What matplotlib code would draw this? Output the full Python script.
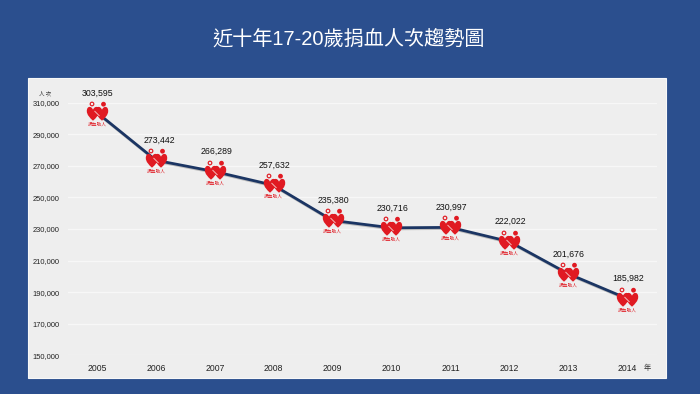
import numpy as np
import matplotlib
matplotlib.use("Agg")
import matplotlib.pyplot as plt
import matplotlib.patheffects as pe
from matplotlib.patches import Rectangle
from matplotlib.path import Path

years = ['2005', '2006', '2007', '2008', '2009', '2010', '2011', '2012', '2013', '2014']
donors = [303595, 273442, 266289, 257632, 235380, 230716, 230997, 222022, 201676, 185982]
yticks = [150000, 170000, 190000, 210000, 230000, 250000, 270000, 290000, 310000]

BG = '#2b4f8e'
PANEL = '#eeeeee'
NAVY = '#1b3563'
RED = '#e01a22'
W, H = 700, 394
FONT = ['Liberation Sans', 'Noto Sans CJK TC']


def circle(cx, cy, r, ccw=True):
    c = Path.unit_circle()
    v = c.vertices * r + [cx, cy]
    if not ccw:
        return Path(v[::-1], c.codes)
    return Path(v, c.codes)


def heart(cx, cy, s):
    # one heart, in pixels, y up
    v = np.array([[0, -7.2], [-3, -4.5], [-6.2, -1.5], [-6.2, 2.5],
                  [-6.2, 7.5], [-1.8, 8], [0, 3.8],
                  [1.8, 8], [6.2, 7.5], [6.2, 2.5],
                  [6.2, -1.5], [3, -4.5], [0, -7.2], [0, -7.2]]) * s + [cx, cy]
    codes = [Path.MOVETO] + [Path.CURVE4] * 12 + [Path.CLOSEPOLY]
    return Path(v, codes)


# logo centred on the data point, drawn as one marker
logo = Path.make_compound_path(
    heart(-4.5, 0, 1.0),
    heart(4.5, 0, 1.0),
    circle(-5.5, 9.5, 2.4),
    circle(-5.5, 9.5, 1.2, ccw=False),
    circle(6, 9.3, 2.4),
)
logo_r = np.abs(logo.vertices).max()
# small light slit where the two hearts cross
slit = Path([[-logo_r, logo_r], [-3, 2.5], [2, -2.5], [logo_r, -logo_r]],
            [Path.MOVETO, Path.MOVETO, Path.LINETO, Path.MOVETO])

fig = plt.figure(figsize=(W / 100, H / 100), dpi=100, facecolor=BG)

# panel
fig.patches.append(Rectangle((28 / W, 1 - 378 / H), 638 / W, 300 / H, transform=fig.transFigure,
                             facecolor=PANEL, edgecolor='#f8f8f8', linewidth=0.8, zorder=-1))

x0, x1 = 67.6, 656.5
y150, y310 = 355.4, 102.5
ax = fig.add_axes([x0 / W, 1 - y150 / H, (x1 - x0) / W, (y150 - y310) / H])
ax.patch.set_alpha(0)
ax.set_xlim(-0.5, 9.5)
ax.set_ylim(150000, 310000)
for s in ax.spines.values():
    s.set_visible(False)
ax.set_yticks(yticks, [f'{v:,}' for v in yticks], family=FONT, fontsize=5.4, color='#222222')
ax.set_xticks(range(len(years)), years, family=FONT, fontsize=6.2, color='#222222')
ax.tick_params(length=0)
ax.tick_params(axis='y', pad=6)
ax.tick_params(axis='x', pad=6.5)
ax.grid(axis='y', color='#f7f7f7', linewidth=1)
ax.set_axisbelow(True)

xs = np.arange(len(years))
ax.plot(xs, donors, color=NAVY, linewidth=2.0, solid_capstyle='round', zorder=3, clip_on=False,
        path_effects=[pe.SimpleLineShadow(offset=(0.5, -0.8), shadow_color='#888888', alpha=0.5), pe.Normal()])
ax.plot(xs, donors, linestyle='none', marker=logo, markersize=2 * logo_r * 0.72,
        markerfacecolor=RED, markeredgewidth=0, zorder=4, clip_on=False)
ax.plot(xs, donors, linestyle='none', marker=slit, markersize=2 * logo_r * 0.72, markerfacecolor='none',
        markeredgecolor='#f3b8b8', markeredgewidth=0.7, zorder=4.5, clip_on=False)

label_dx = [0.5, 3, 2, 1, 0.5, 1, 1, 1, 0.5, 1]
for x, v, dx in zip(xs, donors, label_dx):
    ax.annotate(f'{v:,}', (x, v), xytext=(dx * 0.72, 19.8 * 0.72), textcoords='offset points',
                ha='center', va='center', family=FONT, fontsize=6.3, color='#111111', zorder=5)
    ax.annotate('捐血助人', (x, v), xytext=(0, -11.2 * 0.72), textcoords='offset points',
                ha='center', va='center', family='Noto Sans CJK TC', fontsize=3.4, color=RED, zorder=5)

fig.text(348.5 / W, 1 - 38.5 / H, '近十年17-20歲捐血人次趨勢圖', color='white', family=FONT, fontsize=14.5,
         ha='center', va='center')
fig.text(45 / W, 1 - 94 / H, '人 次', color='#333333', family='Noto Sans CJK TC', fontsize=4.0, ha='center', va='center')
fig.text(647 / W, 1 - 368 / H, '年', color='#333333', family='Noto Sans CJK TC', fontsize=5.2, ha='center', va='center')

fig.savefig('out.png', dpi=100, facecolor=BG)
